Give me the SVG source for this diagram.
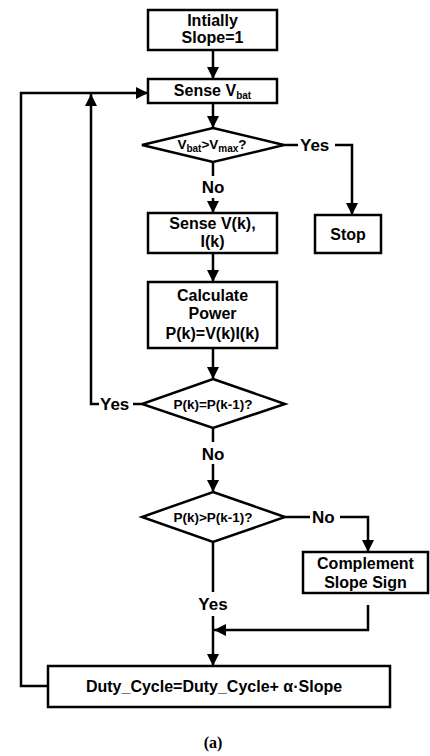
<svg xmlns="http://www.w3.org/2000/svg" width="430" height="756" viewBox="0 0 430 756">
<defs>
<style>
.box{fill:#fff;stroke:#000;stroke-width:2.5}
.t{font-family:"Liberation Sans",Arial,sans-serif;font-weight:bold;font-size:16px;text-anchor:middle;fill:#000}
.d{font-size:13.5px}
.lbl{font-family:"Liberation Sans",Arial,sans-serif;font-weight:bold;font-size:17px;fill:#000}
.sub{font-size:10px}
.c{fill:none;stroke:#000;stroke-width:2.5}
.cap{font-family:"Liberation Serif","Times New Roman",serif;font-weight:bold;font-size:16px;text-anchor:middle}
</style>
<marker id="ah" markerWidth="12" markerHeight="12" refX="12" refY="6" orient="auto" markerUnits="userSpaceOnUse"><path d="M0,0 L12,6 L0,12 z" fill="#000"/></marker>
</defs>
<rect width="430" height="756" fill="#fff"/>
<g id="connectors">
<path class="c" d="M213,50 V79" marker-end="url(#ah)"/>
<path class="c" d="M213,103 V128" marker-end="url(#ah)"/>
<path class="c" d="M284,145 H298"/>
<path class="c" d="M335,145 H352 V215" marker-end="url(#ah)"/>
<path class="c" d="M213,162 V176"/>
<path class="c" d="M213,198 V213" marker-end="url(#ah)"/>
<path class="c" d="M213,253 V282" marker-end="url(#ah)"/>
<path class="c" d="M213,348 V379" marker-end="url(#ah)"/>
<path class="c" d="M142,404 H133"/>
<path class="c" d="M99,404 H91 V94" marker-end="url(#ah)"/>
<path class="c" d="M213,428 V442"/>
<path class="c" d="M213,464 V492" marker-end="url(#ah)"/>
<path class="c" d="M285,517 H310"/>
<path class="c" d="M340,517 H368 V552" marker-end="url(#ah)"/>
<path class="c" d="M213,542 V592"/>
<path class="c" d="M213,616 V666" marker-end="url(#ah)"/>
<path class="c" d="M368,605 V630 H214" marker-end="url(#ah)"/>
<path class="c" d="M48,686 H21 V93 H148" marker-end="url(#ah)"/>
</g>
<g id="n-init">
<rect class="box" x="148" y="10" width="129" height="40"/>
<text class="t" x="212.5" y="26">Intially</text>
<text class="t" x="212.5" y="43">Slope=1</text>
</g>
<g id="n-sense-vbat">
<rect class="box" x="148" y="79" width="129" height="24"/>
<text class="t" x="212.5" y="96">Sense V<tspan class="sub" dy="3">bat</tspan></text>
</g>
<g id="n-vbat-vmax">
<polygon class="box" points="213,128 284,145 213,162 142,145"/>
<text class="t d" x="212" y="149">V<tspan class="sub" dy="3">bat</tspan><tspan dy="-3">&gt;V</tspan><tspan class="sub" dy="3">max</tspan><tspan dy="-3">?</tspan></text>
</g>
<g id="l-yes1"><text class="lbl" x="300" y="151">Yes</text></g>
<g id="n-stop">
<rect class="box" x="315" y="215" width="66" height="38"/>
<text class="t" x="348" y="240">Stop</text>
</g>
<g id="l-no1"><text class="lbl" x="213" y="193" text-anchor="middle">No</text></g>
<g id="n-sense-vi">
<rect class="box" x="148" y="213" width="129" height="40"/>
<text class="t" x="212.5" y="229">Sense V(k),</text>
<text class="t" x="212.5" y="247">I(k)</text>
</g>
<g id="n-power">
<rect class="box" x="148" y="282" width="129" height="66"/>
<text class="t" x="212.5" y="301">Calculate</text>
<text class="t" x="212.5" y="319">Power</text>
<text class="t" x="212.5" y="339">P(k)=V(k)I(k)</text>
</g>
<g id="n-peq">
<polygon class="box" points="213,379 285,404 213,428 142,404"/>
<text class="t d" x="213" y="409">P(k)=P(k-1)?</text>
</g>
<g id="l-yes2"><text class="lbl" x="100" y="410">Yes</text></g>
<g id="l-no2"><text class="lbl" x="213" y="460" text-anchor="middle">No</text></g>
<g id="n-pgt">
<polygon class="box" points="213,492 285,517 213,542 142,517"/>
<text class="t d" x="213" y="522">P(k)&gt;P(k-1)?</text>
</g>
<g id="l-no3"><text class="lbl" x="312" y="523">No</text></g>
<g id="n-complement">
<rect class="box" x="303" y="552" width="125" height="41"/>
<text class="t" x="365.5" y="569">Complement</text>
<text class="t" x="365.5" y="588">Slope Sign</text>
</g>
<g id="l-yes3"><text class="lbl" x="213" y="610" text-anchor="middle">Yes</text></g>
<g id="n-duty">
<rect class="box" x="48" y="666" width="342" height="41"/>
<text class="t" x="214" y="692">Duty_Cycle=Duty_Cycle+ α·Slope</text>
</g>
<text class="cap" x="213" y="748">(a)</text>
</svg>
